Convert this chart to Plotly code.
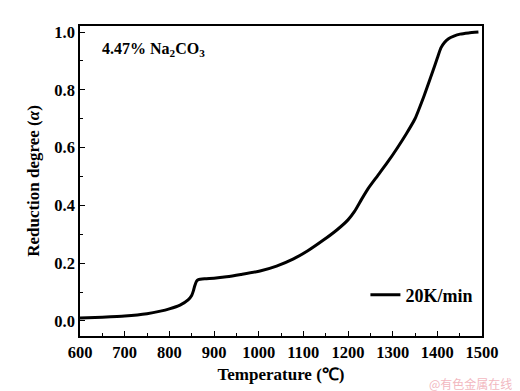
import plotly.graph_objects as go

temperature = [600, 650, 700, 750, 780, 800, 824, 842, 850, 854, 857, 861, 865, 880, 900, 928, 960, 1003, 1040, 1078, 1110, 1145, 1175, 1200, 1215, 1230, 1245, 1265, 1287, 1310, 1331, 1350, 1370, 1390, 1400, 1408, 1416, 1425, 1437, 1451, 1470, 1492]
alpha = [0.010, 0.013, 0.017, 0.025, 0.034, 0.042, 0.055, 0.073, 0.088, 0.105, 0.122, 0.138, 0.143, 0.146, 0.148, 0.153, 0.161, 0.173, 0.190, 0.215, 0.243, 0.280, 0.315, 0.350, 0.380, 0.420, 0.458, 0.500, 0.546, 0.598, 0.649, 0.700, 0.778, 0.865, 0.910, 0.945, 0.964, 0.977, 0.986, 0.993, 0.997, 1.000]

x_ticks = [600, 700, 800, 900, 1000, 1100, 1200, 1300, 1400, 1500]
y_ticks = [0.0, 0.2, 0.4, 0.6, 0.8, 1.0]
y_tick_labels = ["0.0", "0.2", "0.4", "0.6", "0.8", "1.0"]

font_family = "Liberation Serif"

fig = go.Figure()
fig.add_trace(go.Scatter(
    x=temperature, y=alpha, mode="lines",
    line=dict(color="black", width=3, shape="spline", smoothing=0.5),
    name="<b>20K/min</b>", showlegend=True,
))

fig.update_layout(
    width=520, height=391,
    margin=dict(l=72, r=46, t=18, b=63),
    paper_bgcolor="white", plot_bgcolor="white",
    font=dict(family=font_family, color="black"),
    showlegend=True,
    legend=dict(x=0.71, y=0.132, xanchor="left", yanchor="middle",
                bgcolor="rgba(0,0,0,0)", borderwidth=0,
                font=dict(family=font_family, size=18, color="black"),
                itemwidth=30),
    annotations=[
        dict(text="<b>4.47% Na<sub>2</sub>CO<sub>3</sub></b>", x=0.05, y=0.96,
             xref="paper", yref="paper", xanchor="left", yanchor="top",
             showarrow=False, font=dict(family=font_family, size=16, color="black")),
        dict(text="@有色金属在线", x=1.08, y=-0.152, xref="paper", yref="paper",
             showarrow=False, xanchor="right", yanchor="middle",
             font=dict(family="Noto Sans CJK SC", size=12, color="#f2b8bf")),
    ],
)

fig.update_xaxes(
    range=[600, 1500], tickvals=x_ticks, ticktext=["<b>" + str(v) + "</b>" for v in x_ticks],
    ticks="inside", ticklen=5, tickwidth=1, tickcolor="black",
    minor=dict(dtick=50, ticks="inside", ticklen=3, tickwidth=1, tickcolor="black"),
    showline=True, linecolor="black", linewidth=1.5, mirror=True,
    showgrid=False, zeroline=False, automargin=False,
    tickfont=dict(family=font_family, size=16.5, color="black"),
    title=dict(text="<b>Temperature (℃)</b>", font=dict(family=font_family, size=17, color="black"), standoff=8),
)
fig.update_yaxes(
    range=[-0.052, 1.021], tickvals=y_ticks, ticktext=["<b>" + t + "</b>" for t in y_tick_labels],
    ticks="inside", ticklen=5, tickwidth=1, tickcolor="black",
    minor=dict(dtick=0.1, ticks="inside", ticklen=3, tickwidth=1, tickcolor="black"),
    showline=True, linecolor="black", linewidth=1.5, mirror=True,
    showgrid=False, zeroline=False, automargin=False,
    tickfont=dict(family=font_family, size=16.5, color="black"),
    title=dict(text="<b>Reduction degree (<i>α</i>)</b>", font=dict(family=font_family, size=17, color="black"), standoff=10),
)

fig.write_html("out.html")
